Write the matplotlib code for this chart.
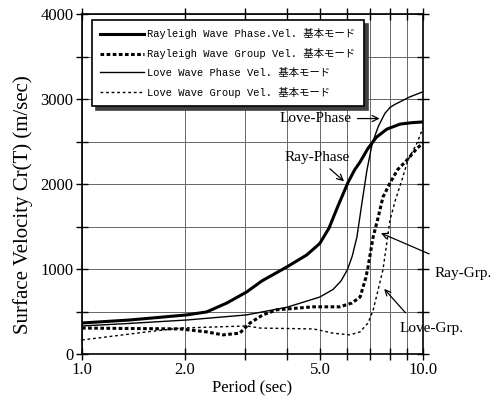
import numpy as np
import matplotlib.pyplot as plt
from matplotlib.ticker import FixedLocator, NullFormatter

# periods (sec) and velocities (m/sec)
ray_ph_t = [1.0, 1.38, 2.03, 2.32, 2.66, 3.04, 3.37, 3.99, 4.56, 4.98, 5.3, 5.63, 6.03, 6.3, 6.54, 6.9, 7.3, 7.83, 8.57, 9.3, 10.0]
ray_ph_v = [365, 400, 460, 495, 600, 730, 860, 1025, 1165, 1300, 1480, 1740, 2020, 2165, 2260, 2420, 2550, 2645, 2705, 2722, 2730]

ray_gr_t = [1.0, 1.94, 2.32, 2.59, 2.9, 3.11, 3.39, 3.73, 4.76, 5.7, 6.19, 6.54, 6.8, 6.9, 7.14, 7.38, 7.63, 8.0, 8.43, 8.97, 9.6, 10.0]
ray_gr_v = [305, 295, 260, 225, 245, 365, 460, 520, 555, 555, 600, 670, 900, 1025, 1375, 1600, 1845, 2010, 2170, 2280, 2420, 2480]

love_ph_t = [1.0, 1.38, 2.03, 3.04, 3.99, 4.98, 5.45, 5.75, 6.0, 6.2, 6.4, 6.62, 6.85, 7.1, 7.4, 7.73, 8.0, 8.26, 9.15, 10.0]
love_ph_v = [330, 360, 400, 460, 550, 670, 760, 860, 990, 1150, 1375, 1775, 2165, 2480, 2680, 2830, 2900, 2935, 3025, 3085]

love_gr_t = [1.0, 1.23, 1.55, 1.94, 3.04, 3.33, 4.76, 4.98, 5.45, 6.1, 6.54, 6.9, 7.14, 7.38, 7.63, 7.83, 8.0, 8.3, 8.67, 9.03, 9.6, 10.0]
love_gr_v = [165, 210, 260, 305, 330, 305, 295, 280, 245, 225, 260, 365, 515, 750, 990, 1305, 1575, 1810, 2045, 2280, 2480, 2660]

labels = ['Rayleigh Wave Phase.Vel. 基本モード',
          'Rayleigh Wave Group Vel. 基本モード',
          'Love Wave Phase Vel. 基本モード',
          'Love Wave Group Vel. 基本モード']

serif = ['Liberation Serif', 'DejaVu Serif']
mono = ['Liberation Mono', 'Noto Sans CJK JP']

fig = plt.figure(figsize=(4.97, 3.99), dpi=100)
ax = fig.add_axes([82 / 497, 45 / 399, 341 / 497, 340 / 399])

ax.plot(ray_ph_t, ray_ph_v, color='black', lw=2.2, ls='-', label=labels[0])
ax.plot(ray_gr_t, ray_gr_v, color='black', lw=2.2, ls=(0, (1.2, 0.8)), label=labels[1])
ax.plot(love_ph_t, love_ph_v, color='black', lw=1.0, ls='-', label=labels[2])
ax.plot(love_gr_t, love_gr_v, color='black', lw=1.0, ls=(0, (2, 2)), label=labels[3])

ax.set_xscale('log')
ax.set_xlim(1, 10)
ax.set_ylim(0, 4000)
ax.xaxis.set_major_locator(FixedLocator([1, 2, 5, 10]))
ax.xaxis.set_minor_locator(FixedLocator([3, 4, 6, 7, 8, 9]))
ax.xaxis.set_minor_formatter(NullFormatter())
ax.set_xticklabels(['1.0', '2.0', '5.0', '10.0'])
ax.set_yticks([0, 1000, 2000, 3000, 4000])
ax.set_yticks([500, 1500, 2500, 3500], minor=True)
ax.tick_params(which='both', direction='inout', length=8, top=True, right=True, width=1)
ax.tick_params(labelsize=12, pad=2)
for lab in ax.get_xticklabels() + ax.get_yticklabels():
    lab.set_family(serif)
ax.grid(which='both', color='0.4', lw=0.7)
for s in ax.spines.values():
    s.set_linewidth(1.2)

ax.set_xlabel('Period (sec)', family=serif, fontsize=12, labelpad=1)
ax.set_ylabel('Surface Velocity Cr(T) (m/sec)', family=serif, fontsize=15)
ax.yaxis.set_label_coords(-0.143, 0.44)

leg = ax.legend(loc='upper left', bbox_to_anchor=(10 / 341, 1 - 6 / 340), borderaxespad=0,
                prop={'family': mono, 'size': 7.5},
                handlelength=4.2, handletextpad=0.3, labelspacing=0.85, borderpad=0.8,
                fancybox=False, edgecolor='black', framealpha=1,
                shadow={'color': '0.25', 'alpha': 1, 'ox': 3, 'oy': -3})
leg.get_frame().set_linewidth(1.2)

arrow = dict(arrowstyle='->', color='black', lw=0.9)
ax.annotate('Love-Phase', xy=(7.6, 2770), xytext=(4.85, 2770), ha='center', va='center',
            family=serif, fontsize=11, arrowprops=arrow)
ax.annotate('Ray-Phase', xy=(5.95, 2010), xytext=(4.9, 2310), ha='center', va='center',
            family=serif, fontsize=11, arrowprops=arrow)
ax.annotate('Ray-Grp.', xy=(7.4, 1435), xytext=(10.8, 950), ha='left', va='center',
            family=serif, fontsize=11, annotation_clip=False)
ax.annotate('', xy=(7.4, 1435), xytext=(10.6, 1165), arrowprops=arrow, annotation_clip=False)
ax.annotate('Love-Grp.', xy=(7.6, 790), xytext=(8.55, 305), ha='left', va='center',
            family=serif, fontsize=11)
ax.annotate('', xy=(7.6, 790), xytext=(9.0, 460), arrowprops=arrow)

fig.savefig('out.png', dpi=100)
